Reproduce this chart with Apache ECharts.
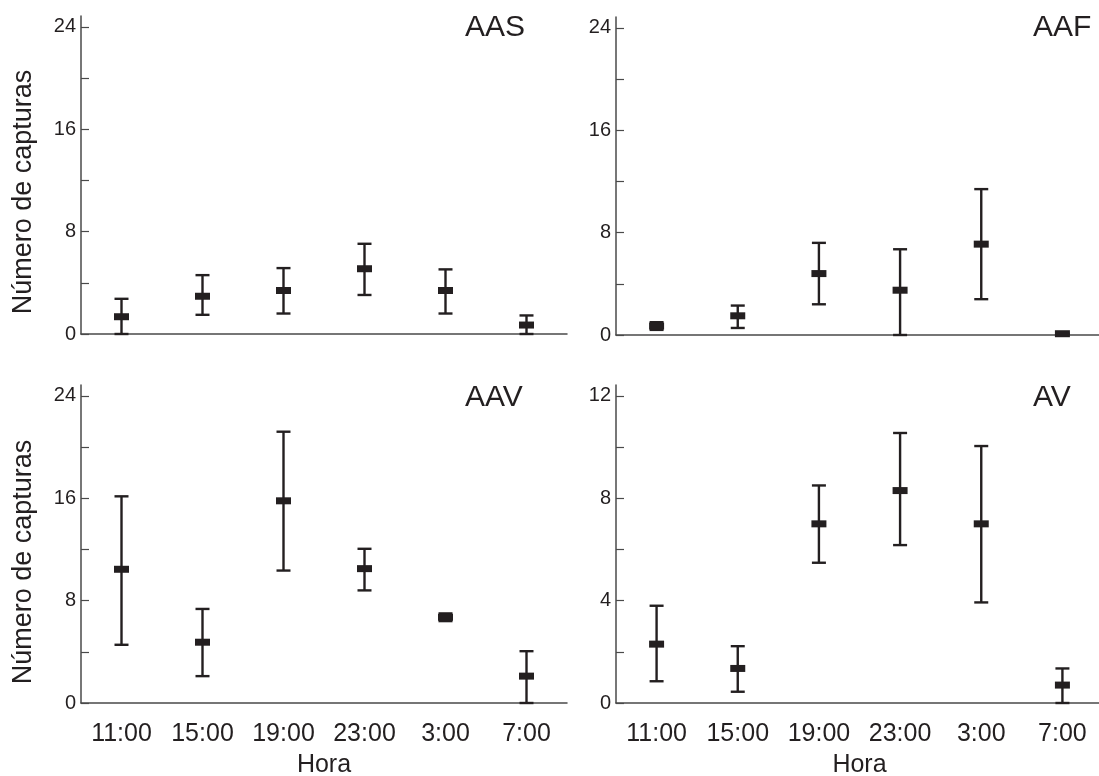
<!DOCTYPE html>
<html>
<head>
<meta charset="utf-8">
<script src="https://cdn.jsdelivr.net/npm/echarts@6/dist/echarts.min.js"></script>
<style>
html,body{margin:0;padding:0;background:#fff;}
#chart{width:1099px;height:776px;}
</style>
</head>
<body>
<div id="chart"></div>
<script>
// ---- data ----
var hours = ['11:00', '15:00', '19:00', '23:00', '3:00', '7:00'];

var aasMean = [1.35, 2.95, 3.4, 5.1, 3.4, 0.7];
var aasLow  = [0, 1.5, 1.6, 3.05, 1.6, 0];
var aasHigh = [2.75, 4.6, 5.15, 7.05, 5.05, 1.45];

var aafMean = [0.7, 1.5, 4.8, 3.5, 7.1, 0.1];
var aafLow  = [0.4, 0.55, 2.4, 0, 2.8, 0.1];
var aafHigh = [1.0, 2.3, 7.2, 6.7, 11.4, 0.1];

var aavMean = [10.45, 4.75, 15.8, 10.5, 6.7, 2.1];
var aavLow  = [4.55, 2.1, 10.35, 8.8, 6.4, 0];
var aavHigh = [16.15, 7.35, 21.2, 12.05, 7.0, 4.05];

var avMean = [2.3, 1.35, 7.0, 8.3, 7.0, 0.7];
var avLow  = [0.85, 0.44, 5.48, 6.17, 3.93, 0];
var avHigh = [3.8, 2.22, 8.5, 10.55, 10.04, 1.35];

var panelNames = ['AAS', 'AAF', 'AAV', 'AV'];
var yTicks24 = [0, 4, 8, 12, 16, 20, 24];
var yLabels24 = [0, 8, 16, 24];
var yTicks12 = [0, 2, 4, 6, 8, 10, 12];
var yLabels12 = [0, 4, 8, 12];
var yName = 'Número de capturas';
var xName = 'Hora';

// ---- chart ----
var FONT = '"Liberation Sans", Arial, sans-serif';
var INK = '#231f20';
var AXIS = '#4a4a4a';

var grids = [
  {left: 81, top: 16, width: 486, height: 318, outerBoundsMode: 'none', containLabel: false},
  {left: 616, top: 17, width: 487, height: 318, outerBoundsMode: 'none', containLabel: false},
  {left: 81, top: 385, width: 486, height: 318, outerBoundsMode: 'none', containLabel: false},
  {left: 616, top: 385, width: 487, height: 318, outerBoundsMode: 'none', containLabel: false}
];

function makeX(i) {
  var bottom = i >= 2;
  return {
    type: 'category', gridIndex: i, data: hours, boundaryGap: true,
    axisLine: {show: true, lineStyle: {color: AXIS, width: 1.5}},
    axisTick: {show: false},
    axisLabel: {show: bottom, interval: 0, hideOverlap: false, color: INK, fontSize: 25, fontFamily: FONT, margin: 19},
    splitLine: {show: false},
    name: bottom ? xName : '',
    nameLocation: 'middle', nameGap: 50,
    nameTextStyle: {color: INK, fontSize: 25, fontFamily: FONT}
  };
}

function makeY(i, max, ticks, labels) {
  return {
    type: 'value', gridIndex: i, min: 0, max: max,
    axisLine: {show: true, onZero: false, lineStyle: {color: AXIS, width: 1.5}},
    axisTick: {show: true, inside: true, length: 8, customValues: ticks, lineStyle: {color: AXIS, width: 1.2}},
    axisLabel: {color: INK, fontSize: 20, fontFamily: FONT, margin: 5, customValues: labels},
    splitLine: {show: false}
  };
}

function errSeries(i, mean, low, high) {
  var data = hours.map(function (h, k) { return [k, low[k], high[k], mean[k]]; });
  return {
    type: 'custom', xAxisIndex: i, yAxisIndex: i, data: data,
    encode: {x: 0, y: [1, 2, 3]},
    clip: false,
    renderItem: function (params, api) {
      var x = api.value(0);
      var pLow = api.coord([x, api.value(1)]);
      var pHigh = api.coord([x, api.value(2)]);
      var pMean = api.coord([x, api.value(3)]);
      var cx = pMean[0];
      var capW = 14, rw = 15, rh = 7;
      var st = {stroke: INK, lineWidth: 2.4, fill: null};
      return {
        type: 'group',
        children: [
          {type: 'line', shape: {x1: cx, y1: pLow[1], x2: cx, y2: pHigh[1]}, style: st},
          {type: 'line', shape: {x1: cx - capW / 2, y1: pLow[1], x2: cx + capW / 2, y2: pLow[1]}, style: st},
          {type: 'line', shape: {x1: cx - capW / 2, y1: pHigh[1], x2: cx + capW / 2, y2: pHigh[1]}, style: st},
          {type: 'rect', shape: {x: cx - rw / 2, y: pMean[1] - rh / 2, width: rw, height: rh}, style: {fill: INK}}
        ]
      };
    }
  };
}

var option = {
  backgroundColor: '#fff',
  animation: false,
  grid: grids,
  xAxis: [makeX(0), makeX(1), makeX(2), makeX(3)],
  yAxis: [
    makeY(0, 24.85, yTicks24, yLabels24),
    makeY(1, 24.85, yTicks24, yLabels24),
    makeY(2, 24.85, yTicks24, yLabels24),
    makeY(3, 12.425, yTicks12, yLabels12)
  ],
  series: [
    errSeries(0, aasMean, aasLow, aasHigh),
    errSeries(1, aafMean, aafLow, aafHigh),
    errSeries(2, aavMean, aavLow, aavHigh),
    errSeries(3, avMean, avLow, avHigh)
  ],
  graphic: [
    {type: 'text', left: 465, top: 13, style: {text: panelNames[0], fill: INK, font: '30px ' + FONT}},
    {type: 'text', left: 1033, top: 13, style: {text: panelNames[1], fill: INK, font: '30px ' + FONT}},
    {type: 'text', left: 465, top: 383, style: {text: panelNames[2], fill: INK, font: '30px ' + FONT}},
    {type: 'text', left: 1033, top: 383, style: {text: panelNames[3], fill: INK, font: '30px ' + FONT}},
    {type: 'text', x: 24, y: 192, rotation: Math.PI / 2,
      style: {text: yName, fill: INK, font: '27px ' + FONT, textAlign: 'center', textVerticalAlign: 'middle'}},
    {type: 'text', x: 24, y: 562, rotation: Math.PI / 2,
      style: {text: yName, fill: INK, font: '27px ' + FONT, textAlign: 'center', textVerticalAlign: 'middle'}}
  ]
};

var chart = echarts.init(document.getElementById('chart'), null, {renderer: 'canvas'});
chart.setOption(option);
</script>
</body>
</html>
